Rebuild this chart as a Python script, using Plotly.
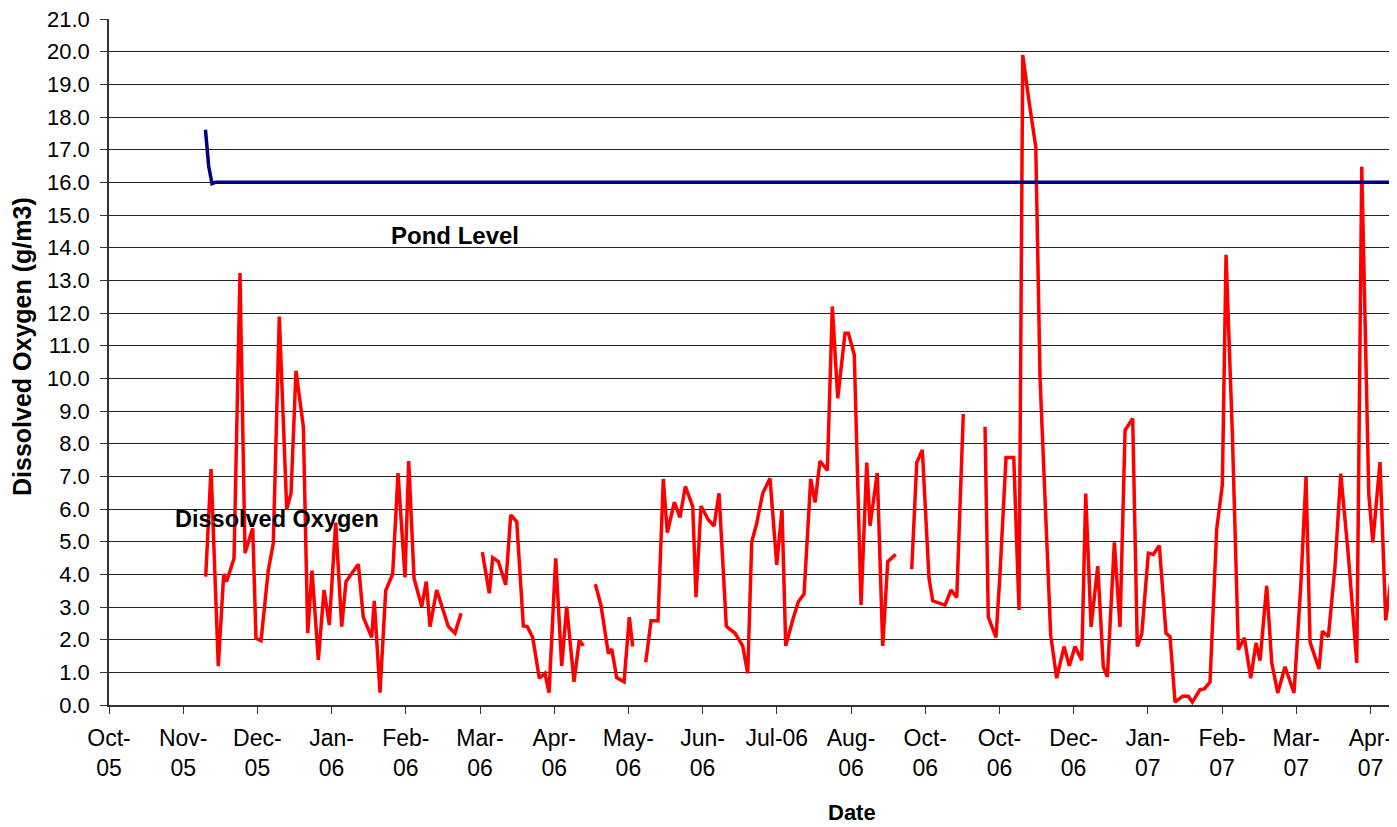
import plotly.graph_objects as go

# x positions are expressed in "axis months" (0 = Oct-05 tick, 1 = next tick, ...)
tick_labels = ["Oct-<br>05", "Nov-<br>05", "Dec-<br>05", "Jan-<br>06", "Feb-<br>06", "Mar-<br>06",
               "Apr-<br>06", "May-<br>06", "Jun-<br>06", "Jul-06", "Aug-<br>06", "Oct-<br>06",
               "Oct-<br>06", "Dec-<br>06", "Jan-<br>07", "Feb-<br>07", "Mar-<br>07", "Apr-<br>07"]
y_ticks = [i * 1.0 for i in range(22)]

do_t = [1.303, 1.375, 1.473, 1.546, 1.586, 1.685, 1.765, 1.833, 1.937, 1.981, 2.049, 2.147, 2.214, 2.295,
        2.395, 2.453, 2.520, 2.619, 2.678, 2.736, 2.821, 2.898, 2.969, 3.055, 3.136, 3.194, 3.360, 3.427,
        3.540, 3.575, 3.652, 3.729, 3.823, 3.895, 3.989, 4.039, 4.111, 4.214, 4.276, 4.326, 4.416, 4.573,
        4.663, 4.744, 4.90,
        5.031, 5.125, 5.171, 5.247, 5.346, 5.414, 5.495, 5.584, 5.637, 5.710, 5.799, 5.876, 5.930, 6.020,
        6.101, 6.168, 6.267, 6.338, 6.392, 6.47,
        6.554, 6.631, 6.729, 6.775, 6.842, 6.941, 7.012, 7.058, 7.15,
        7.233, 7.305, 7.399, 7.470, 7.524, 7.619, 7.695, 7.767, 7.867, 7.911, 7.978, 8.077, 8.154, 8.221,
        8.319, 8.360, 8.437, 8.540, 8.608, 8.662, 8.729, 8.810, 8.908, 8.999, 9.070, 9.120, 9.214, 9.290,
        9.367, 9.457, 9.515, 9.582, 9.681, 9.748, 9.821, 9.919, 9.964, 10.044, 10.135, 10.212, 10.256,
        10.354, 10.427, 10.495, 10.602, 10.70,
        10.818, 10.886, 10.961, 11.051, 11.101, 11.267, 11.348, 11.425, 11.513, 11.65,
        11.806, 11.850, 11.954, 12.008, 12.089, 12.193, 12.264, 12.314, 12.403, 12.490, 12.547, 12.605,
        12.691, 12.772, 12.871, 12.942, 13.019, 13.109, 13.163, 13.235, 13.325, 13.400, 13.454, 13.549,
        13.625, 13.693, 13.796, 13.858, 13.918, 14.007, 14.074, 14.155, 14.245, 14.299, 14.367, 14.470,
        14.546, 14.600, 14.704, 14.761, 14.838, 14.928, 15.004, 15.054, 15.139, 15.220, 15.301, 15.387,
        15.458, 15.512, 15.602, 15.670, 15.751, 15.849, 15.970, 16.061, 16.132, 16.186, 16.307, 16.352,
        16.433, 16.523, 16.600, 16.702, 16.762, 16.816, 16.883, 16.978, 17.032, 17.129, 17.206, 17.287,
        17.354]
do_val = [3.93, 7.22, 1.19, 4.01, 3.78, 4.49, 13.22, 4.65, 5.41, 2.04, 1.97, 4.13, 4.95, 11.89,
          5.99, 6.48, 10.23, 8.52, 2.20, 4.11, 1.38, 3.52, 2.45, 5.58, 2.40, 3.78, 4.31, 2.69,
          2.07, 3.19, 0.38, 3.50, 4.01, 7.10, 3.91, 7.47, 3.88, 3.01, 3.78, 2.40, 3.52, 2.40,
          2.20, 2.81, None,
          4.68, 3.42, 4.51, 4.39, 3.68, 5.82, 5.61, 2.42, 2.40, 2.07, 0.82, 0.97, 0.38, 4.49,
          1.20, 3.01, 0.71, 1.99, 1.81, None,
          3.70, 3.04, 1.58, 1.71, 0.84, 0.71, 2.69, 1.79, None,
          1.31, 2.58, 2.58, 6.92, 5.28, 6.21, 5.74, 6.69, 6.07, 3.30, 6.09, 5.67, 5.48, 6.48,
          2.42, 2.33, 2.20, 1.81, 0.97, 5.00, 5.56, 6.48, 6.94, 4.29, 5.99, 1.81, 2.60, 3.16,
          3.40, 6.92, 6.20, 7.47, 7.18, 12.20, 9.39, 11.38, 11.38, 10.72, 3.06, 7.42, 5.49,
          7.10, 1.81, 4.39, 4.61, None,
          4.16, 7.42, 7.81, 3.88, 3.19, 3.06, 3.52, 3.29, 8.91, None,
          8.52, 2.69, 2.07, 4.03, 7.58, 7.58, 2.91, 19.90, 18.41, 17.08, 10.03, 6.84,
          2.13, 0.82, 1.79, 1.20, 1.79, 1.37, 6.47, 2.39, 4.25, 1.17, 0.86, 4.98,
          2.39, 8.41, 8.77, 1.79, 2.17, 4.65, 4.61, 4.88, 2.19, 2.09, 0.09, 0.27,
          0.27, 0.09, 0.47, 0.49, 0.70, 5.38, 6.74, 13.78, 8.31, 1.69, 2.06, 0.82,
          1.90, 1.36, 3.65, 1.29, 0.37, 1.17, 0.37, 3.65, 6.98, 1.93, 1.10, 2.26,
          2.09, 4.25, 7.08, 4.58, 2.86, 1.29, 16.48, 6.45, 4.98, 7.44, 2.59, 3.92,
          5.18]

pond_t = [1.300, 1.330, 1.343, 1.388, 1.433, 17.40]
pond_val = [17.61, 17.00, 16.50, 15.96, 16.00, 16.00]

FONT = "Liberation Sans, Arial, sans-serif"

fig = go.Figure()
fig.add_trace(go.Scatter(x=do_t, y=do_val, mode="lines", connectgaps=False,
                         line=dict(color="#FF0000", width=3.5), name="Dissolved Oxygen"))
fig.add_trace(go.Scatter(x=pond_t, y=pond_val, mode="lines",
                         line=dict(color="#000080", width=3.5), name="Pond Level"))


def label(text, x, y, size, angle=0):
    return dict(text=text, x=x, y=y, xref="paper", yref="paper", xanchor="center",
                yanchor="middle", showarrow=False, textangle=angle,
                font=dict(size=size, family=FONT, color="black"))


fig.update_layout(
    width=1389, height=819,
    margin=dict(l=101, r=0, t=11, b=122, autoexpand=False),
    paper_bgcolor="white", plot_bgcolor="white",
    showlegend=False,
    font=dict(family=FONT, color="black"),
    xaxis=dict(range=[0, 17.358], tickmode="array", tickvals=list(range(len(tick_labels))),
               ticktext=tick_labels, showgrid=False, zeroline=False, automargin=False,
               showline=True, linecolor="#333333", linewidth=1.5,
               ticks="outside", ticklen=7, tickcolor="#333333", tickwidth=1,
               ticklabeloverflow="allow", ticklabelstandoff=5,
               tickfont=dict(size=23, family=FONT), tickangle=0),
    yaxis=dict(range=[0, 21], tickmode="array", tickvals=y_ticks,
               ticktext=[f"{v:.1f}" for v in y_ticks], automargin=False,
               showgrid=True, gridcolor="#222222", gridwidth=1, zeroline=False,
               showline=True, linecolor="#333333", linewidth=1.5,
               ticks="outside", ticklen=7, tickcolor="#333333", tickwidth=1,
               ticklabeloverflow="allow", ticklabelstandoff=6,
               tickfont=dict(size=22, family=FONT)),
    annotations=[
        label("<b>Pond Level</b>", 0.2686, 0.685, 24),
        label("<b>Dissolved Oxygen</b>", 0.1304, 0.271, 23.5),
        label("<b>Date</b>", 0.5769, -0.156, 22),
        label("<b>Dissolved Oxygen (g/m3)</b>", -0.0675, 0.522, 25, -90),
    ],
)

fig.write_html("out.html")
